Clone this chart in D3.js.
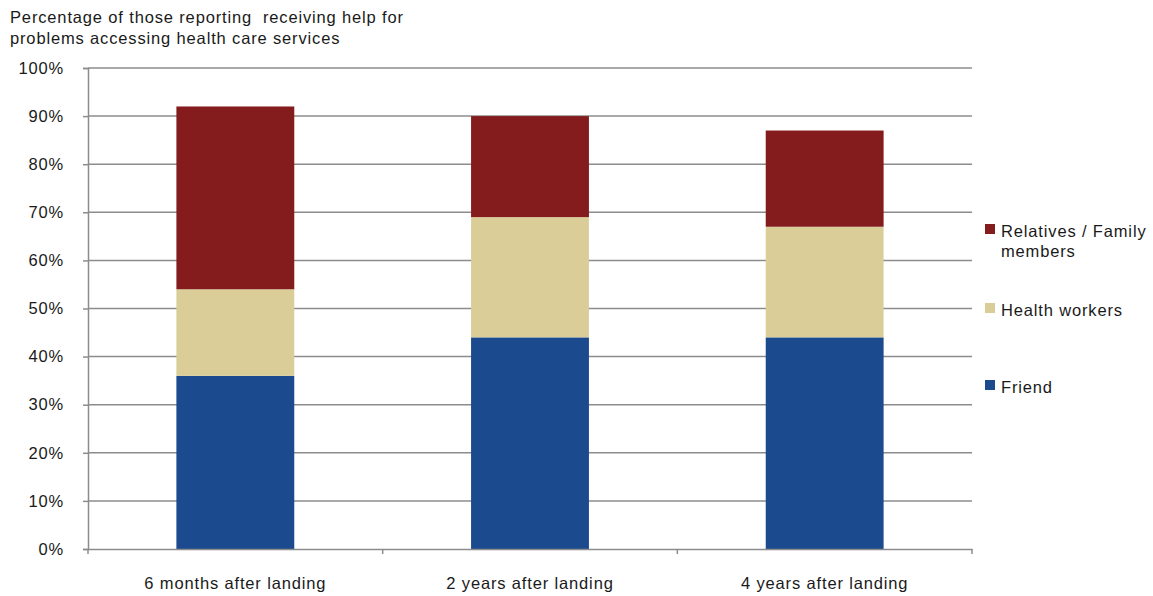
<!DOCTYPE html>
<html>
<head>
<meta charset="utf-8">
<script src="https://cdn.jsdelivr.net/npm/d3@7"></script>
<style>
  body { margin: 0; background: #fff; }
  text { font-family: "Liberation Sans", Arial, sans-serif; fill: #1a1a1a; letter-spacing: 0.85px; }
</style>
</head>
<body>
<svg id="canvas"></svg>
<script>
//--data
const categories = ["6 months after landing", "2 years after landing", "4 years after landing"];
const friend = [36, 44, 44];
const healthWorkers = [18, 25, 23];
const relatives = [38, 21, 20];
const seriesNames = ["Friend", "Health workers", "Relatives / Family members"];
const yTicks = [0, 10, 20, 30, 40, 50, 60, 70, 80, 90, 100];
//--

//--canvas
let width = 1153;
let height = 596;
let margin = {left: 88, right: 181, top: 68, bottom: 47};

let canvas = d3.select("#canvas")
canvas.attr("width", width)
canvas.attr("height", height)
//--

let keys = ["friend", "health", "relatives"];
let colors = {friend: "#1b4a8f", health: "#dacd98", relatives: "#841b1c"};

let table = categories.map((c, i) => ({
    cat: c, friend: friend[i], health: healthWorkers[i], relatives: relatives[i]
}));
let stacked = d3.stack().keys(keys)(table);

let x = d3.scaleBand()
    .domain(categories)
    .range([margin.left, width - margin.right])
    .paddingInner(0.6)
    .paddingOuter(0.3);

let y = d3.scaleLinear()
    .domain([0, 100])
    .range([height - margin.bottom, margin.top]);

//--gridlines
canvas.append("g")
    .selectAll("line")
    .data(yTicks.slice(1))
    .enter()
    .append("line")
    .attr("x1", margin.left)
    .attr("x2", width - margin.right)
    .attr("y1", d => y(d))
    .attr("y2", d => y(d))
    .attr("stroke", "#8c8c8c")
    .attr("stroke-width", 1.5);

//--bars
canvas.append("g")
    .selectAll("g")
    .data(stacked)
    .enter()
    .append("g")
    .attr("fill", d => colors[d.key])
    .selectAll("rect")
    .data(d => d)
    .enter()
    .append("rect")
    .attr("x", d => x(d.data.cat))
    .attr("width", x.bandwidth())
    .attr("y", d => y(d[1]))
    .attr("height", d => y(d[0]) - y(d[1]));

//--y axis
let yAxis = d3.axisLeft(y)
    .tickValues(yTicks)
    .tickFormat(d => d + "%")
    .tickSize(5)
    .tickPadding(19);
let gy = canvas.append("g")
    .attr("transform", `translate(${margin.left},0)`)
    .call(yAxis);
gy.select(".domain").attr("stroke", "#8c8c8c").attr("stroke-width", 1.5);
gy.selectAll(".tick line").attr("stroke", "#8c8c8c").attr("stroke-width", 1.5);
gy.selectAll("text").attr("font-size", 16.5).attr("font-family", "Liberation Sans, Arial, sans-serif").attr("fill", "#1a1a1a");

//--x axis: line plus boundary ticks
let gx = canvas.append("g")
    .attr("transform", `translate(0,${y(0)})`)
    .call(d3.axisBottom(x).tickSize(0).tickPadding(28));
gx.select(".domain").attr("stroke", "#8c8c8c").attr("stroke-width", 1.5);
gx.selectAll("text").attr("font-size", 16.5).attr("font-family", "Liberation Sans, Arial, sans-serif").attr("fill", "#1a1a1a");

let bounds = d3.range(categories.length + 1).map(i => margin.left + i * (width - margin.left - margin.right) / categories.length);
gx.selectAll(".bound")
    .data(bounds)
    .enter()
    .append("line")
    .attr("class", "bound")
    .attr("x1", d => d)
    .attr("x2", d => d)
    .attr("y1", 0)
    .attr("y2", 5)
    .attr("stroke", "#8c8c8c")
    .attr("stroke-width", 1.5);

//--title
let title = canvas.append("text")
    .attr("x", 10)
    .attr("y", 23)
    .attr("font-size", 16.5);
title.append("tspan").attr("x", 10).text("Percentage of those reporting  receiving help for").attr("xml:space", "preserve");
title.append("tspan").attr("x", 10).attr("dy", 20.5).text("problems accessing health care services");

//--legend
let legendItems = [
    {key: "relatives", lines: ["Relatives / Family", "members"], y: 229},
    {key: "health", lines: ["Health workers"], y: 308},
    {key: "friend", lines: ["Friend"], y: 385}
];
let lg = canvas.append("g").attr("class", "legend");
legendItems.forEach(item => {
    lg.append("rect")
        .attr("x", 985)
        .attr("y", item.y - 5)
        .attr("width", 10)
        .attr("height", 10)
        .attr("fill", colors[item.key]);
    let t = lg.append("text")
        .attr("x", 1001)
        .attr("y", item.y + 8)
        .attr("font-size", 16.5);
    item.lines.forEach((l, i) => {
        t.append("tspan").attr("x", 1001).attr("dy", i === 0 ? 0 : 20).text(l);
    });
});
</script>
</body>
</html>
